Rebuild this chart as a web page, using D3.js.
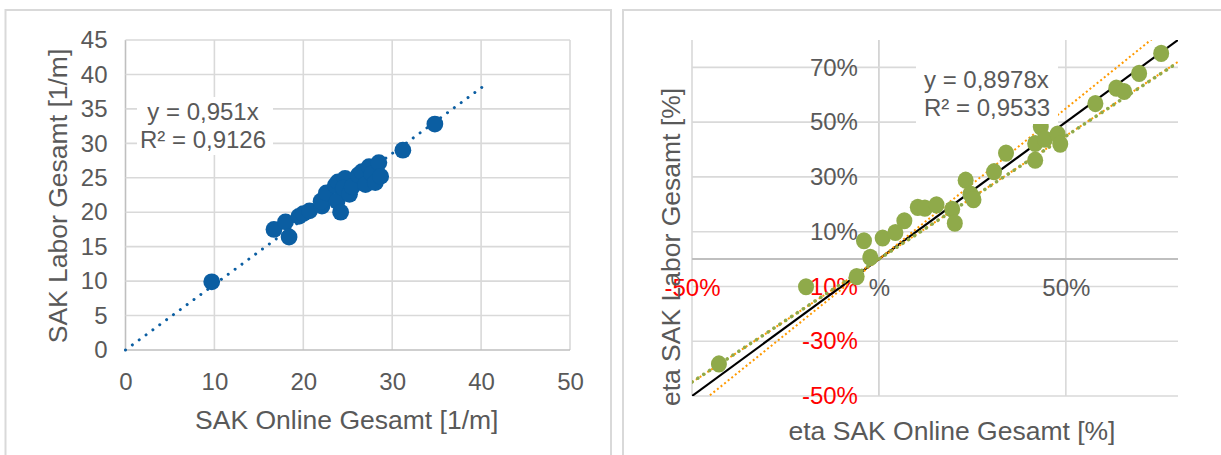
<!DOCTYPE html>
<html><head><meta charset="utf-8">
<script src="https://cdn.jsdelivr.net/npm/d3@7"></script>
<style>
html,body{margin:0;padding:0;background:#fff;}
svg{display:block;font-family:"Liberation Sans",Arial,sans-serif;}
</style></head>
<body>
<svg id="c" width="1221" height="455"></svg>
<script>
// ---- data: left chart (SAK in 1/m) ----
const leftX = [9.7, 16.7, 18.0, 18.4, 19.5, 20.0, 20.7, 22.1, 22.0, 22.6, 23.6, 23.9, 23.8, 24.2, 24.7, 24.5, 25.2, 25.5, 26.2, 26.6, 27.0, 27.4, 27.7, 28.1, 28.5, 28.7, 31.2, 34.8];
const leftY = [9.9, 17.5, 18.6, 16.4, 19.4, 19.8, 20.2, 20.9, 21.6, 22.8, 23.9, 24.4, 21.6, 20.0, 24.9, 23.5, 22.6, 23.7, 25.4, 25.9, 24.0, 26.6, 25.6, 24.3, 27.2, 25.2, 29.0, 32.8];
const leftXTicks = [0, 10, 20, 30, 40, 50];
const leftYTicks = [0, 5, 10, 15, 20, 25, 30, 35, 40, 45];
const leftSlope = 0.951;
const leftTrendRange = [0, 40.4];
const leftEq = ["y = 0,951x", "R² = 0,9126"];
const leftXTitle = "SAK Online Gesamt [1/m]";
const leftYTitle = "SAK Labor Gesamt [1/m]";

// ---- data: right chart (eta in %) ----
const rightX = [-42.8, -19.5, -5.95, -2.3, -4.0, 1.0, 4.4, 6.8, 10.4, 12.3, 15.4, 19.6, 20.3, 23.2, 24.5, 25.3, 30.8, 34.0, 41.8, 41.8, 43.3, 44.4, 47.8, 48.5, 57.9, 63.5, 65.6, 69.6, 75.5];
const rightY = [-38.3, -10.1, -6.4, 0.6, 6.7, 7.7, 9.7, 14.0, 18.9, 18.6, 19.8, 18.2, 13.1, 28.8, 23.7, 21.7, 31.9, 38.7, 36.1, 42.2, 48.3, 43.8, 45.6, 42.0, 56.8, 62.4, 61.2, 67.8, 75.1];
const rightXTicks = [-50, 0, 50];
const rightYTicks = [-50, -30, -10, 10, 30, 50, 70];
const rightSlope = 0.8978;
const rightBandSlopes = [0.9, 1.1];
const rightDomain = [-50, 80];
const rightEq = ["y = 0,8978x", "R² = 0,9533"];
const rightXTitle = "eta SAK Online Gesamt [%]";
const rightYTitle = "eta SAK Labor Gesamt [%]";

const svg = d3.select("#c");
const GRID = "#d9d9d9", AXIS = "#bfbfbf", TXT = "#595959";
const BLUE = "#0b5ea2", GREEN = "#8faa4a", ORANGE = "#ff9a00";

// panel borders
svg.append("rect").attr("x", 5.5).attr("y", 10).attr("width", 605.5).attr("height", 460)
  .attr("fill", "#fff").attr("stroke", GRID).attr("stroke-width", 2);
svg.append("rect").attr("x", 623).attr("y", 10).attr("width", 620).attr("height", 460)
  .attr("fill", "#fff").attr("stroke", GRID).attr("stroke-width", 2);

// ================= LEFT =================
const xL = d3.scaleLinear().domain([0, 50]).range([125.5, 570]);
const yL = d3.scaleLinear().domain([0, 45]).range([350, 40]);
const gL = svg.append("g");
gL.selectAll(".vg").data(leftXTicks).join("line")
  .attr("x1", d => xL(d)).attr("x2", d => xL(d)).attr("y1", yL(45)).attr("y2", yL(0))
  .attr("stroke", d => d === 0 ? AXIS : GRID).attr("stroke-width", 1.6);
gL.selectAll(".hg").data(leftYTicks).join("line")
  .attr("x1", xL(0)).attr("x2", xL(50)).attr("y1", d => yL(d)).attr("y2", d => yL(d))
  .attr("stroke", d => d === 0 ? AXIS : GRID).attr("stroke-width", 1.6);

const axLB = gL.append("g").attr("transform", `translate(0,${yL(0)})`)
  .call(d3.axisBottom(xL).tickValues(leftXTicks).tickSize(0).tickPadding(23).tickFormat(d => String(d)));
const axLL = gL.append("g").attr("transform", `translate(${xL(0)},0)`)
  .call(d3.axisLeft(yL).tickValues(leftYTicks).tickSize(0).tickPadding(18).tickFormat(d => String(d)));
[axLB, axLL].forEach(a => {
  a.select(".domain").remove();
  a.selectAll("text").attr("fill", TXT).style("font-size", "24px").style("font-family", "Liberation Sans, Arial, sans-serif");
});

gL.append("line")
  .attr("x1", xL(leftTrendRange[0])).attr("y1", yL(leftSlope * leftTrendRange[0]))
  .attr("x2", xL(leftTrendRange[1])).attr("y2", yL(leftSlope * leftTrendRange[1]))
  .attr("stroke", BLUE).attr("stroke-width", 3).attr("stroke-dasharray", "0.01 8.5").attr("stroke-linecap", "round");

gL.selectAll(".pt").data(leftX.map((x, i) => [x, leftY[i]])).join("circle")
  .attr("cx", d => xL(d[0])).attr("cy", d => yL(d[1])).attr("r", 8.4).attr("fill", BLUE);

gL.append("rect").attr("x", 137).attr("y", 97).attr("width", 136).attr("height", 58).attr("fill", "#fff");
gL.selectAll(".eq").data(leftEq).join("text")
  .attr("x", 203).attr("y", (d, i) => 120 + i * 28).attr("text-anchor", "middle")
  .attr("fill", TXT).style("font-size", "24px").text(d => d);

gL.append("text").attr("x", (xL(0) + xL(50)) / 2 - 1).attr("y", 429).attr("text-anchor", "middle")
  .attr("fill", TXT).style("font-size", "26.5px").text(leftXTitle);
gL.append("text").attr("transform", `translate(67,${196}) rotate(-90)`).attr("text-anchor", "middle")
  .attr("fill", TXT).style("font-size", "26.5px").text(leftYTitle);

// ================= RIGHT =================
const xR = d3.scaleLinear().domain(rightDomain).range([692, 1178]);
const yR = d3.scaleLinear().domain(rightDomain).range([396, 40]);
const gR = svg.append("g");
gR.append("clipPath").attr("id", "clipR").append("rect")
  .attr("x", xR(-50)).attr("y", yR(80)).attr("width", xR(80) - xR(-50)).attr("height", yR(-50) - yR(80));

gR.selectAll(".vg").data(rightXTicks).join("line")
  .attr("x1", d => xR(d)).attr("x2", d => xR(d)).attr("y1", yR(80)).attr("y2", yR(-50))
  .attr("stroke", d => d === 0 ? "#cfcfcf" : GRID).attr("stroke-width", 1.6);
gR.selectAll(".hg").data(rightYTicks).join("line")
  .attr("x1", xR(-50)).attr("x2", xR(80)).attr("y1", d => yR(d)).attr("y2", d => yR(d))
  .attr("stroke", GRID).attr("stroke-width", 1.6);
gR.append("line").attr("x1", xR(-50)).attr("x2", xR(80)).attr("y1", yR(0)).attr("y2", yR(0))
  .attr("stroke", AXIS).attr("stroke-width", 2);

const pctFmt = d => d === 0 ? "%" : `${d}%`;
const axRB = gR.append("g").attr("transform", `translate(0,${yR(0)})`)
  .call(d3.axisBottom(xR).tickValues(rightXTicks).tickSize(0).tickPadding(20).tickFormat(pctFmt));
const axRL = gR.append("g").attr("transform", `translate(${xR(0)},0)`)
  .call(d3.axisLeft(yR).tickValues(rightYTicks).tickSize(0).tickPadding(21).tickFormat(pctFmt));
[axRB, axRL].forEach(a => {
  a.select(".domain").remove();
  a.selectAll("text").attr("fill", d => d < 0 ? "#ff0000" : TXT)
    .style("font-size", "24px").style("font-family", "Liberation Sans, Arial, sans-serif");
});

const lines = gR.append("g").attr("clip-path", "url(#clipR)");
lines.append("line")
  .attr("x1", xR(-50)).attr("y1", yR(-50)).attr("x2", xR(80)).attr("y2", yR(80))
  .attr("stroke", "#000").attr("stroke-width", 2.2);
lines.selectAll(".band").data(rightBandSlopes).join("line")
  .attr("x1", xR(-50)).attr("y1", d => yR(-50 * d)).attr("x2", xR(80)).attr("y2", d => yR(80 * d))
  .attr("stroke", ORANGE).attr("stroke-width", 2).attr("stroke-dasharray", "2 2.6");
lines.append("line")
  .attr("x1", xR(-50)).attr("y1", yR(-50 * rightSlope)).attr("x2", xR(80)).attr("y2", yR(80 * rightSlope))
  .attr("stroke", GREEN).attr("stroke-width", 3.6).attr("stroke-dasharray", "0.01 7").attr("stroke-linecap", "round");

gR.selectAll(".pt").data(rightX.map((x, i) => [x, rightY[i]])).join("ellipse")
  .attr("cx", d => xR(d[0])).attr("cy", d => yR(d[1])).attr("rx", 8).attr("ry", 8.6).attr("fill", GREEN);

gR.append("rect").attr("x", 916).attr("y", 58).attr("width", 142).attr("height", 66).attr("fill", "#fff");
gR.selectAll(".eq").data(rightEq).join("text")
  .attr("x", 924).attr("y", (d, i) => 88 + i * 28)
  .attr("fill", TXT).style("font-size", "24px").text(d => d);

gR.append("text").attr("x", 952).attr("y", 440).attr("text-anchor", "middle")
  .attr("fill", TXT).style("font-size", "26.5px").text(rightXTitle);
gR.append("text").attr("transform", `translate(680,${247}) rotate(-90)`).attr("text-anchor", "middle")
  .attr("fill", TXT).style("font-size", "26.5px").text(rightYTitle);
</script>
</body></html>
